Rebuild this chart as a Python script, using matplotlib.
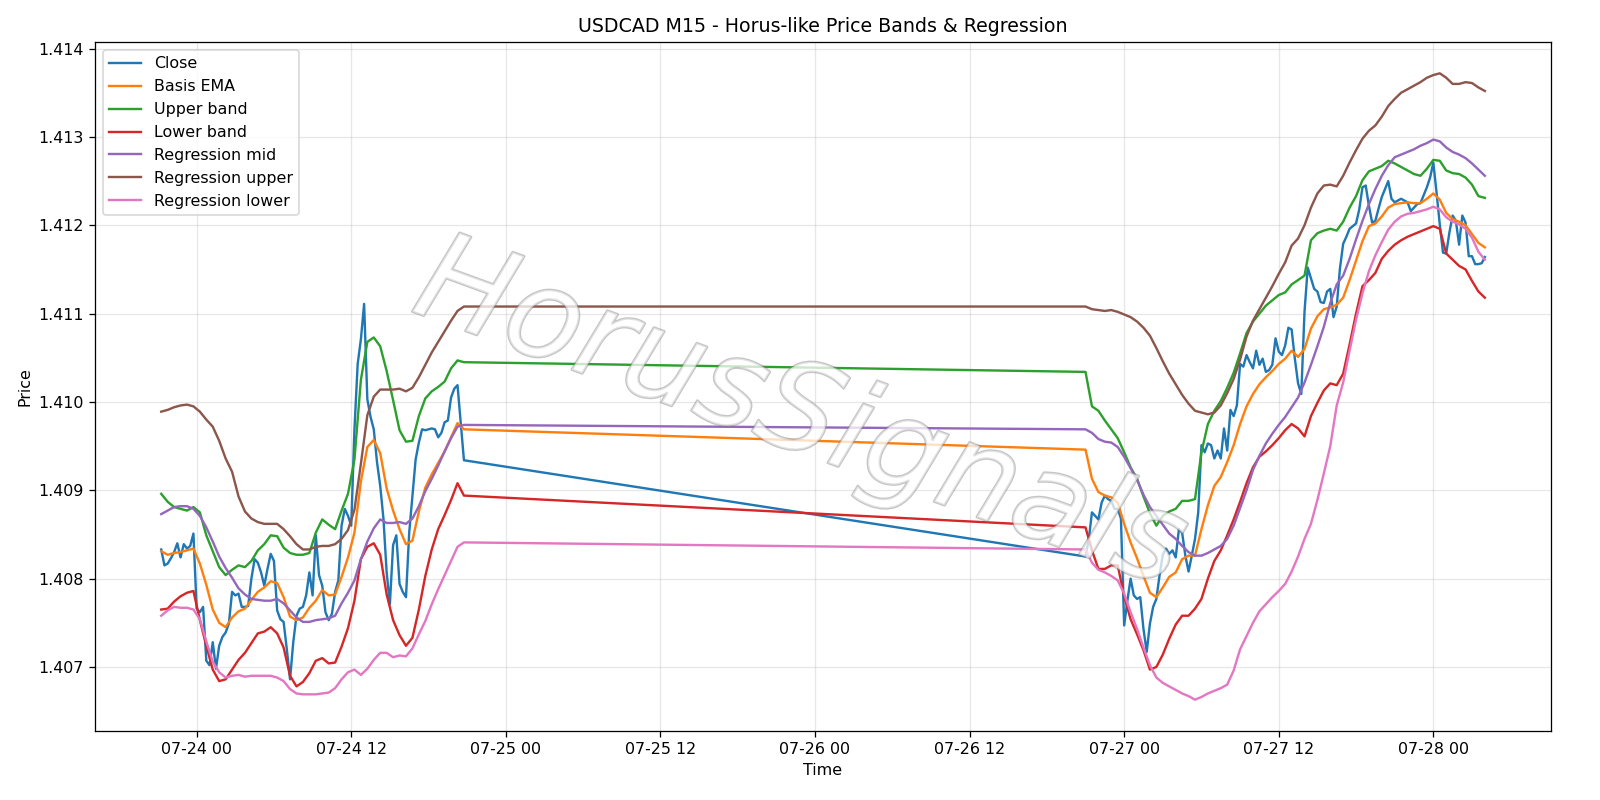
import pandas as pd
import matplotlib
matplotlib.use("Agg")
import matplotlib.pyplot as plt
import matplotlib.dates as mdates
import matplotlib.patheffects as pe

# bar times: Thursday/Friday session, then Sunday open -> Tuesday
close_times_a = pd.date_range("2026-07-23 21:15", "2026-07-24 20:45", freq="15min")
close_times_b = pd.date_range("2026-07-26 21:00", "2026-07-28 04:00", freq="15min")
band_times_a = pd.date_range("2026-07-23 21:15", "2026-07-24 20:45", freq="30min")
band_times_b = pd.date_range("2026-07-26 21:00", "2026-07-28 04:00", freq="30min")

close_a = [1.40833, 1.40815, 1.40817, 1.40823, 1.40830, 1.40840, 1.40824, 1.40839, 1.40834, 1.40837,
           1.40851, 1.40766, 1.40762, 1.40768, 1.40707, 1.40702, 1.40728, 1.40698, 1.40724, 1.40734,
           1.40739, 1.40749, 1.40785, 1.40781, 1.40783, 1.40768, 1.40768, 1.40769, 1.40800, 1.40822,
           1.40818, 1.40807, 1.40792, 1.40811, 1.40828, 1.40820, 1.40764, 1.40754, 1.40751, 1.40720,
           1.40686, 1.40728, 1.40758, 1.40766, 1.40768, 1.40781, 1.40807, 1.40781, 1.40849, 1.40804,
           1.40792, 1.40762, 1.40753, 1.40760, 1.40785, 1.40798, 1.40860, 1.40879, 1.40871, 1.40860,
           1.40969, 1.41043, 1.41071, 1.41111, 1.41003, 1.40983, 1.40969, 1.40932, 1.40905, 1.40868,
           1.40807, 1.40771, 1.40838, 1.40849, 1.40794, 1.40785, 1.40779, 1.40852, 1.40894, 1.40935,
           1.40954, 1.40969, 1.40968, 1.40969, 1.40970, 1.40969, 1.40960, 1.40965, 1.40977, 1.40979,
           1.41005, 1.41015, 1.41019, 1.40977, 1.40934]
close_b = [1.40825, 1.40844, 1.40875, 1.40871, 1.40867, 1.40886, 1.40894, 1.40890, 1.40888, 1.40879,
           1.40879, 1.40868, 1.40747, 1.40775, 1.40800, 1.40781, 1.40777, 1.40779, 1.40743, 1.40717,
           1.40749, 1.40768, 1.40777, 1.40804, 1.40827, 1.40834, 1.40828, 1.40832, 1.40824, 1.40856,
           1.40852, 1.40826, 1.40808, 1.40826, 1.40845, 1.40875, 1.40951, 1.40943, 1.40953, 1.40951,
           1.40936, 1.40945, 1.40936, 1.40970, 1.40945, 1.40991, 1.40984, 1.40996, 1.41043, 1.41040,
           1.41053, 1.41045, 1.41038, 1.41058, 1.41042, 1.41049, 1.41034, 1.41036, 1.41042, 1.41072,
           1.41057, 1.41053, 1.41064, 1.41084, 1.41082, 1.41049, 1.41021, 1.41009, 1.41102, 1.41152,
           1.41140, 1.41128, 1.41125, 1.41113, 1.41112, 1.41125, 1.41128, 1.41096, 1.41108, 1.41151,
           1.41179, 1.41187, 1.41196, 1.41199, 1.41202, 1.41218, 1.41243, 1.41245, 1.41222, 1.41203,
           1.41205, 1.41219, 1.41232, 1.41241, 1.41250, 1.41230, 1.41226, 1.41228, 1.41230, 1.41228,
           1.41226, 1.41216, 1.41220, 1.41224, 1.41225, 1.41234, 1.41243, 1.41254, 1.41271, 1.41237,
           1.41201, 1.41169, 1.41168, 1.41192, 1.41211, 1.41205, 1.41178, 1.41211, 1.41203, 1.41165,
           1.41165, 1.41156, 1.41156, 1.41157, 1.41164]

ema_a = [1.40831, 1.40827, 1.40829, 1.40830, 1.40832, 1.40834, 1.40817, 1.40793, 1.40765, 1.40750,
         1.40745, 1.40756, 1.40763, 1.40766, 1.40776, 1.40785, 1.40790, 1.40797, 1.40795, 1.40779,
         1.40757, 1.40753, 1.40756, 1.40767, 1.40775, 1.40787, 1.40781, 1.40782, 1.40802, 1.40824,
         1.40852, 1.40910, 1.40949, 1.40957, 1.40942, 1.40902, 1.40877, 1.40856, 1.40839, 1.40843,
         1.40876, 1.40903, 1.40918, 1.40931, 1.40944, 1.40960, 1.40976, 1.40969]
ema_b = [1.40946, 1.40913, 1.40898, 1.40894, 1.40892, 1.40886, 1.40862, 1.40841, 1.40823, 1.40803,
         1.40784, 1.40779, 1.40790, 1.40802, 1.40807, 1.40822, 1.40826, 1.40826, 1.40856, 1.40883,
         1.40905, 1.40915, 1.40932, 1.40951, 1.40975, 1.40995, 1.41009, 1.41020, 1.41028, 1.41035,
         1.41043, 1.41049, 1.41058, 1.41051, 1.41060, 1.41083, 1.41097, 1.41105, 1.41107, 1.41110,
         1.41118, 1.41138, 1.41160, 1.41182, 1.41199, 1.41202, 1.41210, 1.41220, 1.41224, 1.41225,
         1.41226, 1.41225, 1.41225, 1.41230, 1.41236, 1.41229, 1.41214, 1.41207, 1.41204, 1.41200,
         1.41190, 1.41180, 1.41175]

upper_a = [1.40896, 1.40887, 1.40881, 1.40879, 1.40877, 1.40881, 1.40875, 1.40849, 1.40831, 1.40813,
           1.40804, 1.40810, 1.40815, 1.40813, 1.40820, 1.40832, 1.40839, 1.40849, 1.40848, 1.40835,
           1.40829, 1.40827, 1.40827, 1.40829, 1.40852, 1.40867, 1.40861, 1.40856, 1.40877, 1.40896,
           1.40935, 1.41025, 1.41068, 1.41073, 1.41063, 1.41035, 1.41002, 1.40968, 1.40955, 1.40956,
           1.40984, 1.41004, 1.41012, 1.41017, 1.41023, 1.41038, 1.41047, 1.41045]
upper_b = [1.41034, 1.40995, 1.40990, 1.40979, 1.40969, 1.40959, 1.40943, 1.40926, 1.40913, 1.40893,
           1.40874, 1.40860, 1.40871, 1.40876, 1.40879, 1.40888, 1.40888, 1.40890, 1.40943, 1.40975,
           1.40990, 1.41001, 1.41016, 1.41033, 1.41055, 1.41078, 1.41091, 1.41100, 1.41109, 1.41115,
           1.41121, 1.41124, 1.41133, 1.41138, 1.41143, 1.41183, 1.41191, 1.41194, 1.41196, 1.41194,
           1.41204, 1.41220, 1.41233, 1.41251, 1.41261, 1.41264, 1.41267, 1.41273, 1.41270, 1.41266,
           1.41262, 1.41258, 1.41256, 1.41264, 1.41274, 1.41273, 1.41262, 1.41259, 1.41258, 1.41254,
           1.41246, 1.41233, 1.41231]

lower_a = [1.40765, 1.40766, 1.40774, 1.40780, 1.40784, 1.40786, 1.40753, 1.40724, 1.40697, 1.40684,
           1.40686, 1.40697, 1.40708, 1.40716, 1.40727, 1.40738, 1.40740, 1.40745, 1.40738, 1.40722,
           1.40690, 1.40678, 1.40683, 1.40693, 1.40707, 1.40710, 1.40704, 1.40705, 1.40723, 1.40744,
           1.40775, 1.40822, 1.40836, 1.40840, 1.40827, 1.40782, 1.40753, 1.40736, 1.40724, 1.40733,
           1.40765, 1.40803, 1.40833, 1.40856, 1.40872, 1.40889, 1.40908, 1.40894]
lower_b = [1.40858, 1.40832, 1.40811, 1.40811, 1.40815, 1.40815, 1.40780, 1.40754, 1.40737, 1.40719,
           1.40697, 1.40700, 1.40714, 1.40732, 1.40748, 1.40758, 1.40758, 1.40766, 1.40777, 1.40800,
           1.40820, 1.40832, 1.40849, 1.40867, 1.40887, 1.40908, 1.40926, 1.40938, 1.40944, 1.40951,
           1.40959, 1.40968, 1.40975, 1.40970, 1.40961, 1.40984, 1.40999, 1.41013, 1.41021, 1.41019,
           1.41032, 1.41065, 1.41100, 1.41131, 1.41138, 1.41146, 1.41162, 1.41171, 1.41178, 1.41183,
           1.41187, 1.41190, 1.41193, 1.41196, 1.41199, 1.41196, 1.41168, 1.41161, 1.41154, 1.41150,
           1.41137, 1.41125, 1.41118]

reg_mid_a = [1.40873, 1.40877, 1.40881, 1.40882, 1.40882, 1.40879, 1.40871, 1.40858, 1.40842, 1.40825,
             1.40812, 1.40801, 1.40789, 1.40782, 1.40777, 1.40776, 1.40775, 1.40775, 1.40777, 1.40772,
             1.40764, 1.40756, 1.40751, 1.40751, 1.40753, 1.40754, 1.40755, 1.40758, 1.40772, 1.40784,
             1.40798, 1.40822, 1.40842, 1.40857, 1.40867, 1.40863, 1.40863, 1.40864, 1.40862, 1.40868,
             1.40882, 1.40899, 1.40913, 1.40928, 1.40944, 1.40959, 1.40972, 1.40974]
reg_mid_b = [1.40969, 1.40965, 1.40958, 1.40955, 1.40954, 1.40949, 1.40938, 1.40925, 1.40912, 1.40895,
             1.40881, 1.40871, 1.40861, 1.40851, 1.40845, 1.40837, 1.40830, 1.40826, 1.40826, 1.40829,
             1.40833, 1.40837, 1.40845, 1.40860, 1.40880, 1.40900, 1.40923, 1.40939, 1.40953, 1.40964,
             1.40974, 1.40983, 1.40994, 1.41005, 1.41022, 1.41042, 1.41063, 1.41085, 1.41112, 1.41133,
             1.41143, 1.41162, 1.41184, 1.41205, 1.41224, 1.41241, 1.41256, 1.41268, 1.41277, 1.41280,
             1.41283, 1.41286, 1.41290, 1.41293, 1.41297, 1.41295, 1.41288, 1.41283, 1.41280, 1.41276,
             1.41270, 1.41263, 1.41256]

reg_up_a = [1.40989, 1.40991, 1.40994, 1.40996, 1.40997, 1.40995, 1.40989, 1.40980, 1.40972, 1.40956,
            1.40936, 1.40921, 1.40893, 1.40876, 1.40868, 1.40864, 1.40862, 1.40862, 1.40862, 1.40856,
            1.40848, 1.40839, 1.40833, 1.40833, 1.40836, 1.40837, 1.40837, 1.40839, 1.40845, 1.40855,
            1.40878, 1.40930, 1.40985, 1.41006, 1.41014, 1.41014, 1.41014, 1.41015, 1.41012, 1.41016,
            1.41028, 1.41042, 1.41056, 1.41068, 1.41080, 1.41092, 1.41103, 1.41108]
reg_up_b = [1.41108, 1.41105, 1.41104, 1.41103, 1.41104, 1.41102, 1.41099, 1.41096, 1.41091, 1.41084,
            1.41075, 1.41061, 1.41046, 1.41032, 1.41020, 1.41008, 1.40998, 1.40990, 1.40988, 1.40986,
            1.40988, 1.40996, 1.41010, 1.41026, 1.41048, 1.41074, 1.41092, 1.41105, 1.41118, 1.41131,
            1.41145, 1.41158, 1.41177, 1.41185, 1.41200, 1.41220, 1.41236, 1.41245, 1.41246, 1.41244,
            1.41256, 1.41271, 1.41285, 1.41298, 1.41307, 1.41313, 1.41323, 1.41335, 1.41343, 1.41350,
            1.41354, 1.41358, 1.41362, 1.41367, 1.41370, 1.41372, 1.41367, 1.41360, 1.41360, 1.41362,
            1.41361, 1.41356, 1.41352]

reg_low_a = [1.40758, 1.40764, 1.40768, 1.40767, 1.40767, 1.40765, 1.40754, 1.40729, 1.40706, 1.40694,
             1.40688, 1.40690, 1.40691, 1.40689, 1.40690, 1.40690, 1.40690, 1.40690, 1.40688, 1.40684,
             1.40675, 1.40670, 1.40669, 1.40669, 1.40669, 1.40670, 1.40671, 1.40676, 1.40686, 1.40694,
             1.40697, 1.40691, 1.40698, 1.40708, 1.40716, 1.40716, 1.40711, 1.40713, 1.40712, 1.40721,
             1.40737, 1.40752, 1.40771, 1.40788, 1.40804, 1.40820, 1.40836, 1.40841]
reg_low_b = [1.40833, 1.40818, 1.40810, 1.40807, 1.40803, 1.40798, 1.40783, 1.40762, 1.40743, 1.40722,
             1.40702, 1.40688, 1.40682, 1.40678, 1.40674, 1.40670, 1.40667, 1.40663, 1.40666, 1.40670,
             1.40673, 1.40676, 1.40680, 1.40696, 1.40720, 1.40735, 1.40750, 1.40763, 1.40771, 1.40779,
             1.40786, 1.40794, 1.40808, 1.40825, 1.40845, 1.40862, 1.40889, 1.40919, 1.40950, 1.40996,
             1.41022, 1.41058, 1.41093, 1.41123, 1.41148, 1.41166, 1.41181, 1.41195, 1.41204, 1.41210,
             1.41213, 1.41214, 1.41216, 1.41218, 1.41221, 1.41218, 1.41209, 1.41204, 1.41201, 1.41196,
             1.41186, 1.41170, 1.41161]

close_t = close_times_a.append(close_times_b)
band_t = band_times_a.append(band_times_b)

fig, ax = plt.subplots(figsize=(14, 7), dpi=800 / 7)
ax.plot(close_t, close_a + close_b, label="Close")
ax.plot(band_t, ema_a + ema_b, label="Basis EMA")
ax.plot(band_t, upper_a + upper_b, label="Upper band")
ax.plot(band_t, lower_a + lower_b, label="Lower band")
ax.plot(band_t, reg_mid_a + reg_mid_b, label="Regression mid")
ax.plot(band_t, reg_up_a + reg_up_b, label="Regression upper")
ax.plot(band_t, reg_low_a + reg_low_b, label="Regression lower")

ax.xaxis.set_major_locator(mdates.HourLocator(byhour=[0, 12]))
ax.xaxis.set_major_formatter(mdates.DateFormatter("%m-%d %H"))
ax.grid(True, alpha=0.3)
ax.legend(loc="upper left")
ax.set_title("USDCAD M15 - Horus-like Price Bands & Regression")
ax.set_xlabel("Time")
ax.set_ylabel("Price")

# watermark
fig.text(0.5, 0.48, "HorusSignals", fontsize=78, rotation=-20, style="italic",
         ha="center", va="center", color=(1, 1, 1, 0.5),
         path_effects=[pe.withStroke(linewidth=1.6, foreground=(0.5, 0.5, 0.5, 0.45))])

fig.subplots_adjust(left=0.0594, right=0.9694, top=0.9475, bottom=0.0863)
fig.savefig("out.png")
